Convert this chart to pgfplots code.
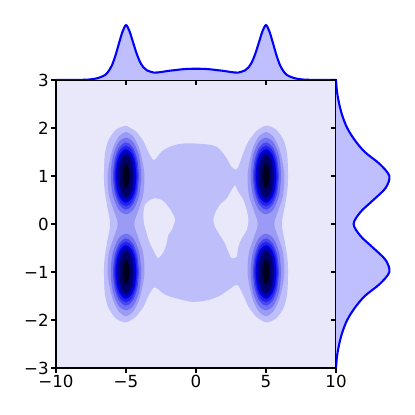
\documentclass[border=0pt]{standalone}
\usepackage{fontspec}
\setmainfont{DejaVu Sans}
\usepackage{pgfplots}
\usepackage{pgfplotstable}
\pgfplotsset{compat=1.18}

\definecolor{bg}{RGB}{232,232,250}
\definecolor{c2}{RGB}{190,190,250}
\definecolor{c3}{RGB}{155,155,245}
\definecolor{c4}{RGB}{115,115,242}
\definecolor{c5}{RGB}{72,72,240}
\definecolor{c6}{RGB}{35,35,238}
\definecolor{c7}{RGB}{0,0,222}
\definecolor{c8}{RGB}{0,0,160}
\definecolor{c9}{RGB}{0,0,100}
\definecolor{c10}{RGB}{0,0,30}
\definecolor{mfill}{RGB}{191,191,255}

% ring offsets around each peak, levels 4..10
\pgfplotstableread{
x4 y4 x5 y5 x6 y6 x7 y7 x8 y8 x9 y9 x10 y10
1.09 0 0.93 0 0.84 0 0.74 0 0.60 0 0.48 0 0.25 0
0.944 0.40 0.805 0.35 0.727 0.315 0.641 0.28 0.52 0.25 0.416 0.22 0.217 0.125
0.545 0.693 0.465 0.606 0.42 0.546 0.37 0.485 0.30 0.433 0.24 0.381 0.125 0.217
0 0.80 0 0.70 0 0.63 0 0.56 0 0.50 0 0.44 0 0.25
-0.545 0.693 -0.465 0.606 -0.42 0.546 -0.37 0.485 -0.30 0.433 -0.24 0.381 -0.125 0.217
-0.944 0.40 -0.805 0.35 -0.727 0.315 -0.641 0.28 -0.52 0.25 -0.416 0.22 -0.217 0.125
-1.09 0 -0.93 0 -0.84 0 -0.74 0 -0.60 0 -0.48 0 -0.25 0
-0.944 -0.40 -0.805 -0.35 -0.727 -0.315 -0.641 -0.28 -0.52 -0.25 -0.416 -0.22 -0.217 -0.125
-0.545 -0.693 -0.465 -0.606 -0.42 -0.546 -0.37 -0.485 -0.30 -0.433 -0.24 -0.381 -0.125 -0.217
0 -0.80 0 -0.70 0 -0.63 0 -0.56 0 -0.50 0 -0.44 0 -0.25
0.545 -0.693 0.465 -0.606 0.42 -0.546 0.37 -0.485 0.30 -0.433 0.24 -0.381 0.125 -0.217
0.944 -0.40 0.805 -0.35 0.727 -0.315 0.641 -0.28 0.52 -0.25 0.416 -0.22 0.217 -0.125
1.09 0 0.93 0 0.84 0 0.74 0 0.60 0 0.48 0 0.25 0
}\rings

% figure-eight level around each column
\pgfplotstableread{
dx y
0 1.92
0.5 1.83
0.95 1.57
1.24 1.2
1.32 0.95
1.22 0.6
0.9 0.3
0.65 0.1
0.6 0
0.65 -0.1
0.9 -0.3
1.22 -0.6
1.32 -0.95
1.24 -1.2
0.95 -1.57
0.5 -1.83
0 -1.92
-0.5 -1.83
-0.95 -1.57
-1.24 -1.2
-1.32 -0.95
-1.22 -0.6
-0.9 -0.3
-0.65 -0.1
-0.6 0
-0.65 0.1
-0.9 0.3
-1.22 0.6
-1.32 0.95
-1.24 1.2
-0.95 1.57
-0.5 1.83
0 1.92
}\eight

\pgfplotstableread{
x d
-10 0
-9 0.001
-8 0.004
-7.5 0.012
-7 0.035
-6.5 0.09
-6.25 0.16
-6 0.27
-5.75 0.45
-5.5 0.67
-5.25 0.88
-5 1.0
-4.75 0.89
-4.5 0.69
-4.25 0.49
-4 0.33
-3.75 0.23
-3.5 0.175
-3 0.135
-2.5 0.145
-2 0.165
-1.5 0.18
-1 0.195
-0.5 0.203
0 0.205
0.5 0.203
1 0.195
1.5 0.18
2 0.165
2.5 0.145
3 0.135
3.5 0.175
3.75 0.23
4 0.33
4.25 0.49
4.5 0.69
4.75 0.89
5 1.0
5.25 0.88
5.5 0.67
5.75 0.45
6 0.27
6.25 0.16
6.5 0.09
7 0.035
7.5 0.012
8 0.004
9 0.001
10 0
}\topkde

\pgfplotstableread{
d y
0.0 -3
0.02 -2.75
0.06 -2.5
0.12 -2.25
0.21 -2
0.35 -1.75
0.54 -1.5
0.82 -1.25
1.0 -1
0.93 -0.75
0.70 -0.5
0.46 -0.25
0.33 0
0.46 0.25
0.70 0.5
0.93 0.75
1.0 1
0.82 1.25
0.54 1.5
0.35 1.75
0.21 2
0.12 2.25
0.06 2.5
0.02 2.75
0.0 3
}\rightkde

\newcommand\blob[2]{%
  \addplot[fill=c4,draw=none,smooth] table[x expr=\thisrow{x4}+(#1),y expr=\thisrow{y4}+(#2)]{\rings};
  \addplot[fill=c5,draw=none,smooth] table[x expr=\thisrow{x5}+(#1),y expr=\thisrow{y5}+(#2)]{\rings};
  \addplot[fill=c6,draw=none,smooth] table[x expr=\thisrow{x6}+(#1),y expr=\thisrow{y6}+(#2)]{\rings};
  \addplot[fill=c7,draw=none,smooth] table[x expr=\thisrow{x7}+(#1),y expr=\thisrow{y7}+(#2)]{\rings};
  \addplot[fill=c8,draw=none,smooth] table[x expr=\thisrow{x8}+(#1),y expr=\thisrow{y8}+(#2)]{\rings};
  \addplot[fill=c9,draw=none,smooth] table[x expr=\thisrow{x9}+(#1),y expr=\thisrow{y9}+(#2)]{\rings};
  \addplot[fill=c10,draw=none,smooth] table[x expr=\thisrow{x10}+(#1),y expr=\thisrow{y10}+(#2)]{\rings};
}

\begin{document}
\begin{tikzpicture}
\path[use as bounding box] (-40.32pt,-33.84pt) rectangle (258.48pt,264.96pt);
\begin{axis}[
  at={(0,0)}, anchor=south west, scale only axis,
  width=201.6pt, height=207.36pt,
  xmin=-10, xmax=10, ymin=-3, ymax=3,
  xtick={-10,-5,0,5,10}, xticklabels={−10,−5,0,5,10},
  ytick={-3,-2,-1,0,1,2,3}, yticklabels={−3,−2,−1,0,1,2,3},
  tick align=outside, xtick pos=lower, ytick pos=left,
  major tick length=3.5pt,
  every tick/.style={black, line width=0.8pt},
  axis line style={line width=0.8pt},
  tick label style={font=\fontsize{12}{14}\selectfont},
  xticklabel style={inner sep=1.5pt},
  yticklabel style={inner sep=1.5pt},
  axis background/.style={fill=bg},
  clip=true,
]
% level 2 region
\addplot[fill=c2,draw=none,smooth] coordinates {
(-5.0,2.05) (-4.3,1.93) (-3.75,1.72) (-3.4,1.5) (-3.0,1.33) (-2.45,1.51) (-1.86,1.61)
(-1.14,1.67) (-0.43,1.68) (0.29,1.67) (1.0,1.65) (1.48,1.61) (1.83,1.51) (2.19,1.37)
(2.55,1.19) (2.95,1.15) (3.4,1.5) (3.75,1.72) (4.3,1.93) (5.0,2.05) (5.7,1.97)
(6.25,1.75) (6.5,1.47) (6.57,1.12) (6.55,0.78) (6.38,0.43) (6.18,0.12) (6.15,0)
(6.18,-0.12) (6.38,-0.43) (6.55,-0.78) (6.57,-1.12) (6.5,-1.47) (6.25,-1.75) (5.7,-1.97)
(5.0,-2.05) (4.3,-1.93) (3.75,-1.72) (3.4,-1.5) (2.95,-1.27) (2.31,-1.375) (1.6,-1.51)
(0.64,-1.6) (-0.31,-1.62) (-1.26,-1.56) (-2.21,-1.47) (-2.95,-1.32) (-3.4,-1.5)
(-3.75,-1.72) (-4.3,-1.93) (-5.0,-2.05) (-5.7,-1.97) (-6.25,-1.75) (-6.5,-1.47)
(-6.57,-1.12) (-6.55,-0.78) (-6.38,-0.43) (-6.18,-0.12) (-6.15,0) (-6.18,0.12)
(-6.38,0.43) (-6.55,0.78) (-6.57,1.12) (-6.5,1.47) (-6.25,1.75) (-5.7,1.97) (-5.0,2.05)
};
% holes
\addplot[fill=bg,draw=none,smooth] coordinates {
(-2.93,0.535) (-2.45,0.5) (-1.98,0.36) (-1.62,0.19) (-1.5,0.08) (-1.74,-0.125)
(-1.98,-0.23) (-2.1,-0.40) (-2.33,-0.58) (-2.69,-0.71) (-2.93,-0.61) (-3.29,-0.40)
(-3.52,-0.19) (-3.71,0.01) (-3.76,0.22) (-3.64,0.40) (-3.29,0.5) (-2.93,0.535)
};
\addplot[fill=bg,draw=none,smooth] coordinates {
(2.79,0.81) (3.02,0.67) (3.38,0.5) (3.62,0.29) (3.74,0.08) (3.62,-0.125) (3.26,-0.30)
(3.02,-0.47) (2.9,-0.68) (2.55,-0.71) (2.31,-0.58) (2.07,-0.40) (1.71,-0.23)
(1.36,-0.06) (1.24,0.08) (1.36,0.22) (1.71,0.40) (2.19,0.53) (2.55,0.71) (2.79,0.81)
};
% level 3 columns
\addplot[fill=c3,draw=none,smooth] table[x expr=\thisrow{dx}-5,y=y]{\eight};
\addplot[fill=c3,draw=none,smooth] table[x expr=\thisrow{dx}+5,y=y]{\eight};
\blob{-5}{1}
\blob{-5}{-1}
\blob{5}{1}
\blob{5}{-1}
\end{axis}

% top marginal
\begin{axis}[
  at={(0,207.36pt)}, anchor=south west, scale only axis,
  width=201.6pt, height=41.47pt,
  xmin=-10, xmax=10, ymin=0, ymax=1.05,
  axis x line*=bottom, axis y line=none,
  xtick={-10,-5,0,5,10}, xticklabels={},
  tick align=outside, major tick length=3.5pt,
  every tick/.style={black, line width=0.8pt},
  axis line style={line width=0.8pt},
]
\addplot[draw=blue, line width=1.5pt, fill=mfill, smooth] table[x=x,y=d]{\topkde};
\end{axis}

% right marginal
\begin{axis}[
  at={(201.6pt,0)}, anchor=south west, scale only axis,
  width=40.32pt, height=207.36pt,
  xmin=0, xmax=1.05, ymin=-3, ymax=3,
  axis y line*=left, axis x line=none,
  ytick={-3,-2,-1,0,1,2,3}, yticklabels={},
  tick align=outside, major tick length=3.5pt,
  every tick/.style={black, line width=0.8pt},
  axis line style={line width=0.8pt},
]
\addplot[draw=blue, line width=1.5pt, fill=mfill, smooth] table[x=d,y=y]{\rightkde};
\end{axis}
\end{tikzpicture}
\end{document}
